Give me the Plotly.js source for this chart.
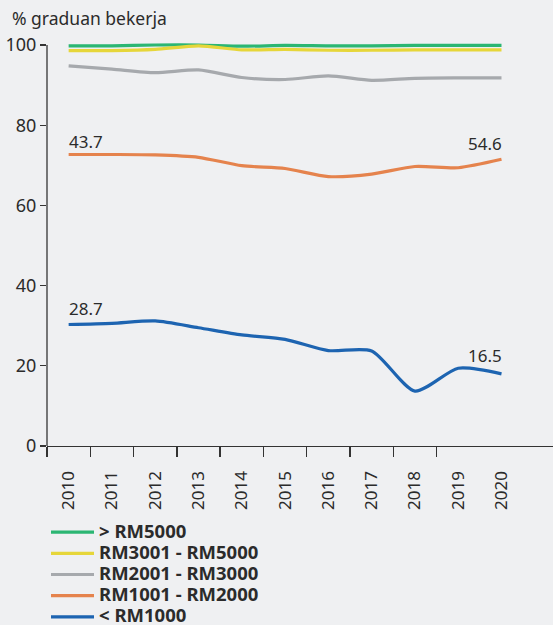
<!DOCTYPE html>
<html>
<head>
<meta charset="utf-8">
<script src="https://cdn.plot.ly/plotly-3.0.1.min.js"></script>
<style>
  html, body { margin: 0; padding: 0; background: #eff0f2; }
  #chart { width: 553px; height: 625px; }
</style>
</head>
<body>
<div id="chart"></div>
<script>
var years = ["2010", "2011", "2012", "2013", "2014", "2015", "2016", "2017", "2018", "2019", "2020"];

var above5000 = [99.8, 99.8, 100.0, 100.0, 99.7, 99.9, 99.8, 99.8, 99.9, 99.9, 99.9];
var rm3001to5000 = [98.6, 98.6, 98.9, 99.8, 98.8, 98.9, 98.7, 98.7, 98.8, 98.8, 98.8];
var rm2001to3000 = [94.8, 94.0, 93.1, 93.8, 91.9, 91.4, 92.3, 91.2, 91.7, 91.8, 91.8];
var rm1001to2000 = [72.7, 72.7, 72.6, 72.0, 69.9, 69.2, 67.2, 67.8, 69.7, 69.4, 71.5];
var below1000 = [30.3, 30.6, 31.2, 29.5, 27.7, 26.6, 23.8, 23.7, 13.7, 19.4, 18.0];

var orangeLabels = ["43.7", "54.6"];
var blueLabels = ["28.7", "16.5"];

var seriesNames = ["> RM5000", "RM3001 - RM5000", "RM2001 - RM3000", "RM1001 - RM2000", "< RM1000"];
var seriesColors = ["#2bb673", "#e6d63a", "#a6a9ad", "#e5834d", "#1d64b1"];
var seriesValues = [above5000, rm3001to5000, rm2001to3000, rm1001to2000, below1000];

var idx = years.map(function (y, i) { return i; });
var last = idx.length - 1;

function esc(s) { return s.replace(/</g, "&lt;").replace(/>/g, "&gt;"); }

var data = seriesValues.map(function (vals, k) {
  return {
    x: idx,
    y: vals,
    type: "scatter",
    mode: "lines",
    name: '<span style="font-size:18.5px">' + esc(seriesNames[k]) + "</span>",
    line: { color: seriesColors[k], width: 3.2, shape: "spline", smoothing: 0.7 },
    hoverinfo: "skip"
  };
});

var txt = "#2b2b2b";
var fam = "Noto Sans, Open Sans, sans-serif";

var annotations = [
  { x: 0, y: rm1001to2000[0], text: orangeLabels[0], xanchor: "left", yanchor: "middle", xshift: -2, yshift: 13 },
  { x: last, y: rm1001to2000[last], text: orangeLabels[1], xanchor: "right", yanchor: "middle", xshift: 3, yshift: 16 },
  { x: 0, y: below1000[0], text: blueLabels[0], xanchor: "left", yanchor: "middle", xshift: -2, yshift: 16 },
  { x: last, y: below1000[last], text: blueLabels[1], xanchor: "right", yanchor: "middle", xshift: 3, yshift: 18 }
].map(function (a) {
  a.xref = "x"; a.yref = "y"; a.showarrow = false;
  a.font = { family: fam, size: 17, color: txt };
  return a;
});

var layout = {
  width: 553,
  height: 625,
  paper_bgcolor: "#eff0f2",
  plot_bgcolor: "#eff0f2",
  margin: { l: 47, r: 0, t: 37, b: 179, autoexpand: false },
  font: { family: fam, size: 17, color: txt },
  title: {
    text: "% graduan bekerja",
    x: 12 / 553, xanchor: "left", xref: "container",
    y: 1 - 19 / 625, yanchor: "middle", yref: "container",
    automargin: false,
    font: { family: fam, size: 17.5, color: txt }
  },
  xaxis: {
    type: "linear",
    range: [-0.5, 11.19],
    automargin: false,
    tickmode: "array",
    tickvals: idx,
    ticktext: years,
    tickangle: -90,
    ticks: "",
    ticklabelstandoff: 17,
    showgrid: false,
    zeroline: false,
    showline: true,
    linecolor: "#333",
    linewidth: 1.3,
    tickfont: { family: fam, size: 17, color: txt },
    minor: {
      tickmode: "array",
      tickvals: idx.slice(0, last).map(function (i) { return i - 0.5; }),
      ticks: "outside",
      ticklen: 10,
      tickwidth: 1.3,
      tickcolor: "#333"
    }
  },
  yaxis: {
    range: [0, 102],
    automargin: false,
    tickmode: "array",
    tickvals: [0, 20, 40, 60, 80, 100],
    ticks: "outside",
    ticklen: 6,
    tickwidth: 1.3,
    tickcolor: "#333",
    showgrid: false,
    zeroline: false,
    showline: false,
    tickfont: { family: fam, size: 18, color: txt }
  },
  yaxis2: {
    overlaying: "y",
    side: "left",
    range: [0, 102],
    automargin: false,
    tickmode: "array",
    tickvals: [0, 20, 40, 60, 80, 100],
    ticks: "inside",
    ticklen: 6,
    tickwidth: 1.3,
    tickcolor: "#333",
    showticklabels: false,
    showgrid: false,
    zeroline: false,
    showline: false
  },
  shapes: [
    { type: "line", xref: "paper", yref: "y", x0: 0, x1: 0, y0: 0, y1: 100, line: { color: "#333", width: 1.3 } }
  ],
  annotations: annotations,
  showlegend: true,
  legend: {
    x: 46 / 553, xanchor: "left", xref: "container",
    y: 1 - 516.5 / 625, yanchor: "top", yref: "container",
    bgcolor: "rgba(0,0,0,0)",
    itemwidth: 43,
    tracegroupgap: 0,
    font: { family: fam, size: 14, color: txt, weight: "bold" }
  }
};

Plotly.newPlot("chart", data, layout, { displayModeBar: false, staticPlot: true });
</script>
</body>
</html>
